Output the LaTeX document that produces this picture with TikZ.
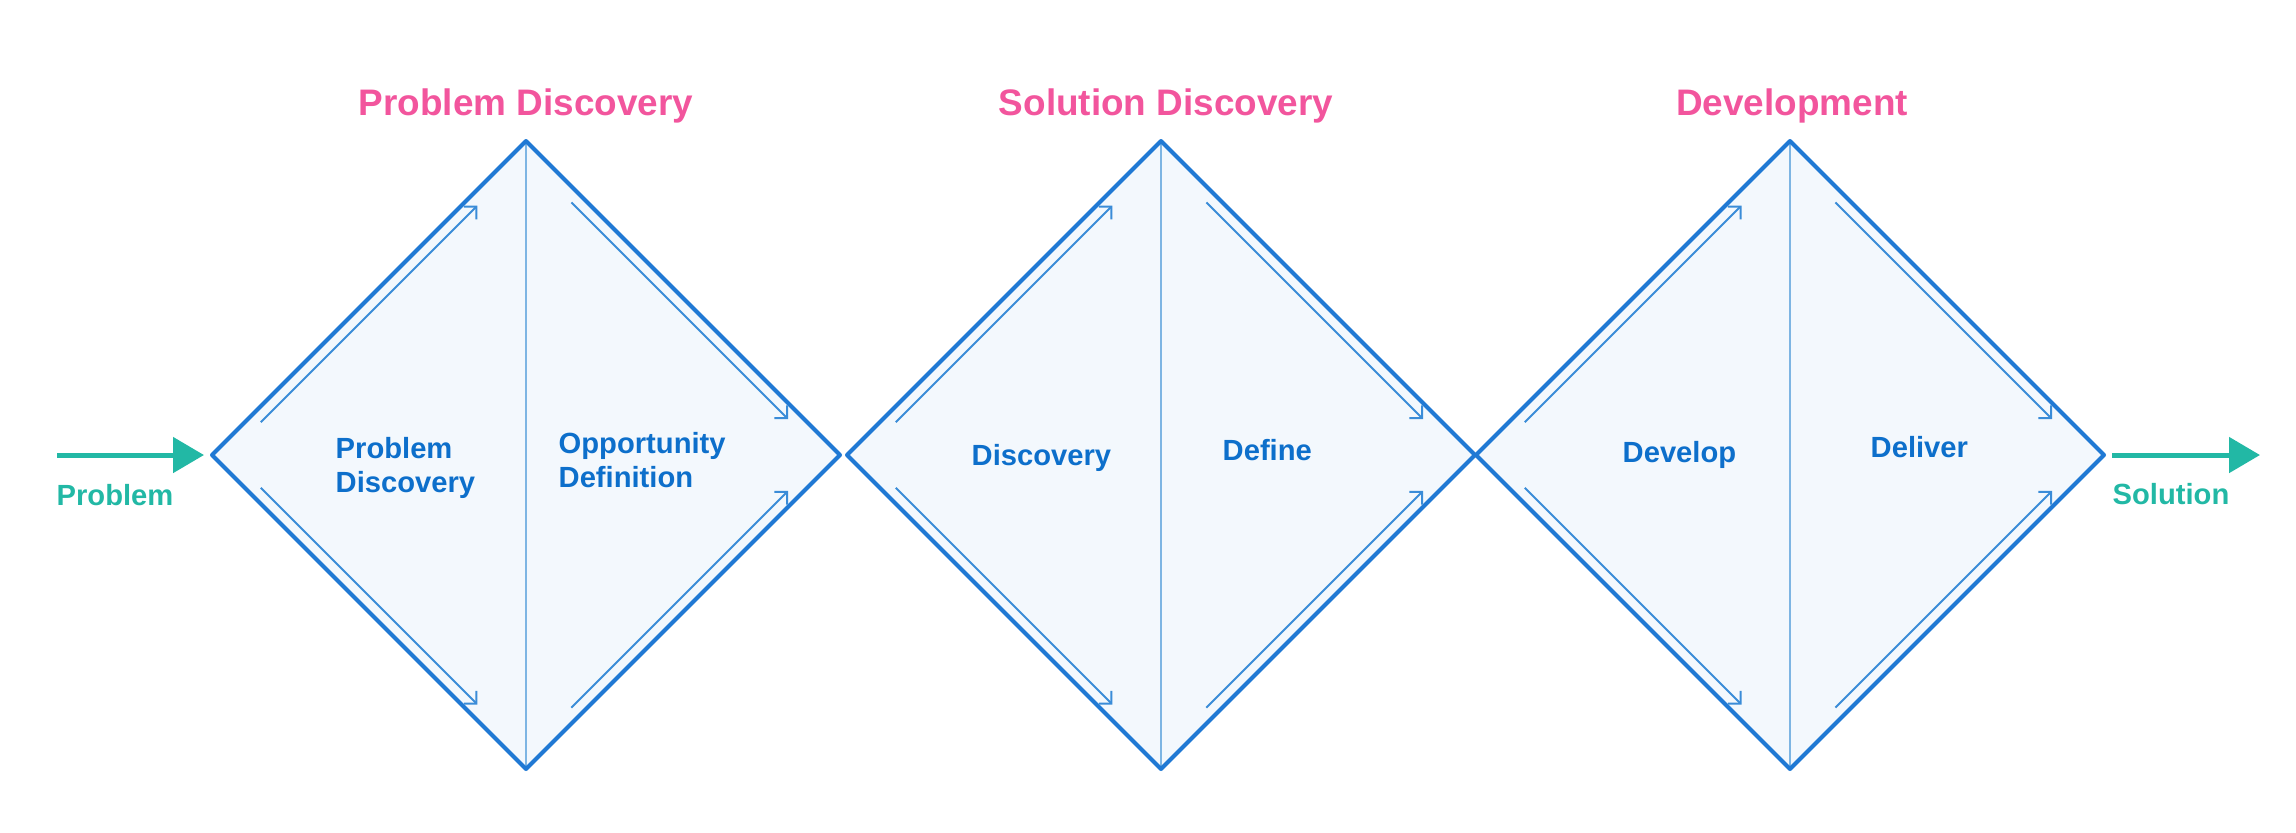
\documentclass[tikz,border=0pt]{standalone}
\usepackage{fontspec}
\setmainfont{Liberation Sans}
\usetikzlibrary{arrows.meta,calc}
\definecolor{titlepink}{HTML}{F2559D}
\definecolor{flowteal}{HTML}{22B8A5}
\definecolor{textblue}{HTML}{0D6FCB}
\definecolor{edgeblue}{HTML}{2079D4}
\definecolor{fillblue}{HTML}{F3F8FD}
\definecolor{midblue}{HTML}{7DB5E3}
\definecolor{hintblue}{HTML}{3A8CD8}
\begin{document}
\begin{tikzpicture}[x=0.1mm,y=-0.1mm,
    phase/.style={font=\bfseries\fontsize{10.5}{12}\selectfont,text=titlepink,inner sep=0pt,anchor=base},
    stage/.style={font=\bfseries\fontsize{8.3}{9.6}\selectfont,text=textblue,inner sep=0pt,anchor=base west,align=left},
    side/.style={font=\bfseries\fontsize{8.3}{9.6}\selectfont,text=flowteal,inner sep=0pt,anchor=base},
    flow/.style={line width=0.5mm,flowteal,-{Triangle[length=3.1mm,width=3.5mm]}},
    rim/.style={line width=0.4mm,edgeblue,line join=round},
    hint/.style={line width=0.2mm,hintblue,-{Straight Barb[length=0.9mm,width=1.8mm]}}]
\useasboundingbox (0,0) rectangle (2296,832);
%% diamonds: corners and fill
\foreach \c/\n in {526/a,1161/b,1790/c}{
    \coordinate (\n L) at (\c-314,455);
    \coordinate (\n T) at (\c,141);
    \coordinate (\n R) at (\c+314,455);
    \coordinate (\n B) at (\c,769);
    \fill[fillblue] (\n L) -- (\n T) -- (\n R) -- (\n B) -- cycle;
}
%% outlines, middle line and small arrows
\foreach \n in {a,b,c}{
    \draw[midblue,line width=0.25mm] (\n T) -- (\n B);
    \draw[rim] (\n L) -- (\n T) -- (\n R) -- (\n B) -- cycle;
    \draw[hint] ($(\n L)!0.13!(\n T)+(8,8)$) -- ($(\n L)!0.82!(\n T)+(8,8)$);
    \draw[hint] ($(\n L)!0.13!(\n B)+(8,-8)$) -- ($(\n L)!0.82!(\n B)+(8,-8)$);
    \draw[hint] ($(\n T)!0.17!(\n R)+(-8,8)$) -- ($(\n T)!0.86!(\n R)+(-8,8)$);
    \draw[hint] ($(\n B)!0.17!(\n R)+(-8,-8)$) -- ($(\n B)!0.86!(\n R)+(-8,-8)$);
}
%% phase titles
\node[phase] (pa) at (526,115) {Problem Discovery};
\node[phase] (pb) at (1166,115) {Solution Discovery};
\node[phase] (pc) at (1792,115) {Development};
%% stages (base = last line)
\node[stage] (s1) at (335,492) {Problem\\Discovery};
\node[stage] (s2) at (558,487) {Opportunity\\Definition};
\node[stage] (s3) at (971,465) {Discovery};
\node[stage] (s4) at (1222,460) {Define};
\node[stage] (s5) at (1622,462) {Develop};
\node[stage] (s6) at (1870,457) {Deliver};
%% in and out
\coordinate (start) at (57,455);
\coordinate (finish) at (2260,455);
\draw[flow,shorten >=0.8mm] (start) -- (aL);
\draw[flow,shorten <=0.8mm] (cR) -- (finish);
\node[side] (prob) at (115,505) {Problem};
\node[side] (sol) at (2171,504) {Solution};
\end{tikzpicture}
\end{document}
